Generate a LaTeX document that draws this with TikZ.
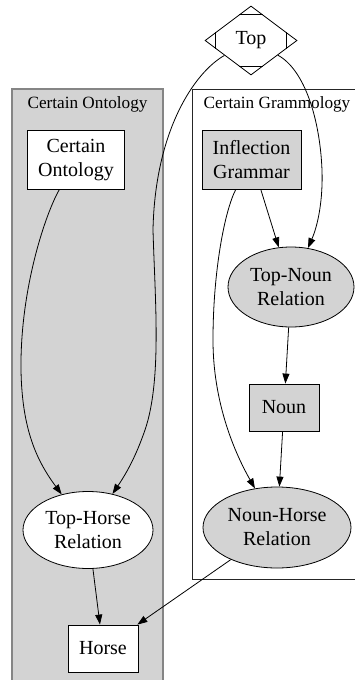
\documentclass[tikz,border=0pt]{standalone}
\usepackage{fontspec}
\setmainfont{Liberation Serif}
\usetikzlibrary{shapes.geometric,arrows.meta,calc}
\definecolor{nodegray}{HTML}{D3D3D3}
\definecolor{framegray}{HTML}{858585}
\begin{document}
\begin{tikzpicture}[x=1pt,y=-1pt,
  every node/.style={font=\fontsize{20}{24}\selectfont, inner sep=0pt, line width=0.8pt},
  box/.style={draw, rectangle, align=center},
  oval/.style={draw, ellipse, align=center},
  shaded/.style={fill=nodegray},
  plain/.style={fill=white},
  clusterlabel/.style={font=\fontsize{17.2}{20}\selectfont},
  arr/.style={-{Triangle[length=10pt,width=7pt]}, line width=0.8pt}]
  \useasboundingbox (0,0) rectangle (355,680);
  \clip (0,0) rectangle (355,680);

  % clusters
  \draw[fill=nodegray, draw=framegray, line width=1.2pt] (12,89) rectangle (163,690);
  \draw[fill=white, draw=black!85, line width=1pt] (192,89) rectangle (370,579);
  \node[clusterlabel] (lblO) at (87.5,104) {Certain Ontology};
  \node[clusterlabel] (lblG) at (277,104) {Certain Grammology};

  % Top (Mdiamond)
  \node[draw, diamond, fill=white, minimum width=92pt, minimum height=69pt] (top) at (251,40.5) {Top};
  \draw[line width=0.8pt] ($(top.north)!.26!(top.west)$) -- ($(top.north)!.26!(top.east)$);
  \draw[line width=0.8pt] ($(top.south)!.26!(top.west)$) -- ($(top.south)!.26!(top.east)$);
  \draw[line width=0.8pt] ($(top.west)!.24!(top.north)$) -- ($(top.west)!.24!(top.south)$);
  \draw[line width=0.8pt] ($(top.east)!.24!(top.north)$) -- ($(top.east)!.24!(top.south)$);

  % nodes
  \node[box, plain, minimum width=97pt, minimum height=59pt] (co) at (76,160) {Certain\\Ontology};
  \node[box, shaded, minimum width=99pt, minimum height=59pt] (ig) at (251.5,159.5) {Inflection\\Grammar};
  \node[oval, shaded, minimum width=126pt, minimum height=80pt] (tn) at (291,287) {Top-Noun\\Relation};
  \node[box, shaded, minimum width=70pt, minimum height=47pt] (noun) at (284,407.5) {Noun};
  \node[oval, shaded, minimum width=148pt, minimum height=81pt] (nh) at (277,527.5) {Noun-Horse\\Relation};
  \node[oval, plain, minimum width=130pt, minimum height=77pt] (th) at (88,530) {Top-Horse\\Relation};
  \node[box, plain, minimum width=70pt, minimum height=47pt] (horse) at (103,648.5) {Horse};

  % edges
  \draw[arr] (top) .. controls (195,72) and (155,130) .. (153,230)
                   .. controls (155,300) and (162,380) .. (145,430)
                   .. controls (138,450) and (130,468) .. (th);
  \draw[arr] (top) .. controls (305,70) and (320,120) .. (322,170)
                   .. controls (323,200) and (318,225) .. (tn);
  \draw[arr] (co) .. controls (45,215) and (20,290) .. (21,370)
                  .. controls (22,430) and (37,461) .. (th);
  \draw[arr] (ig) -- (tn);
  \draw[arr] (ig) .. controls (225,210) and (213,270) .. (213,340)
                  .. controls (213,410) and (240,462) .. (nh);
  \draw[arr] (tn) -- (noun);
  \draw[arr] (noun) -- (nh);
  \draw[arr] (th) -- (horse);
  \draw[arr] (nh) -- (horse);
\end{tikzpicture}
\end{document}
